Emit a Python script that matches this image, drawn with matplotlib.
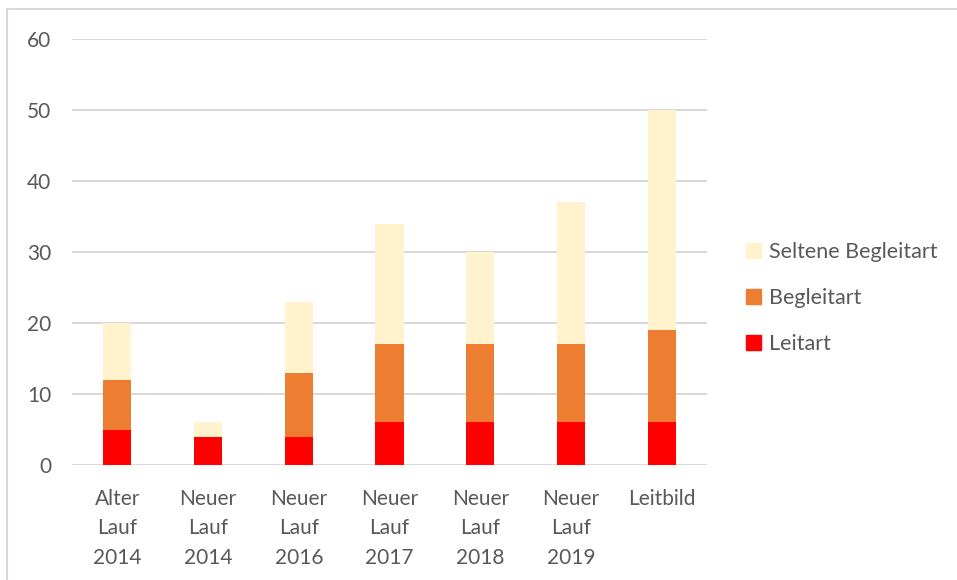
import matplotlib.pyplot as plt
from matplotlib.patches import Rectangle, Patch

categories = ['Alter\nLauf\n2014', 'Neuer\nLauf\n2014', 'Neuer\nLauf\n2016', 'Neuer\nLauf\n2017',
              'Neuer\nLauf\n2018', 'Neuer\nLauf\n2019', 'Leitbild']
leitart = [5, 4, 4, 6, 6, 6, 6]
begleitart = [7, 0, 9, 11, 11, 11, 13]
seltene = [8, 2, 10, 17, 13, 20, 31]

plt.rcParams['font.family'] = ['Lato', 'DejaVu Sans']
txt = '#595959'

fig = plt.figure(figsize=(9.57, 5.8), dpi=100)
fig.patches.append(Rectangle((7 / 957, -0.01), 1.0, 1 - 9 / 580 + 0.01, transform=fig.transFigure,
                             fill=False, edgecolor='#d9d9d9', linewidth=1.5))
ax = fig.add_axes([72 / 957, 115 / 580, 635 / 957, 426 / 580])

x = range(len(categories))
w = 0.31
b2 = [a + b for a, b in zip(leitart, begleitart)]
ax.bar(x, leitart, w, color='#FF0000', label='Leitart', zorder=3)
ax.bar(x, begleitart, w, bottom=leitart, color='#ED7D31', label='Begleitart', zorder=3)
ax.bar(x, seltene, w, bottom=b2, color='#FFF2CC', label='Seltene Begleitart', zorder=3)

ax.set_xlim(-0.5, 6.5)
ax.set_ylim(0, 60)
ax.set_yticks(range(0, 61, 10))
ax.yaxis.grid(True, color='#d9d9d9', linewidth=1.5, zorder=0)
for s in ax.spines.values():
    s.set_visible(False)
ax.tick_params(length=0, colors=txt, labelsize=15)
ax.tick_params(axis='y', pad=15)
ax.tick_params(axis='x', pad=17)
ax.set_xticks(list(x))
ax.set_xticklabels(categories, linespacing=1.6)

handles = [Patch(color='#FFF2CC', label='Seltene Begleitart'),
           Patch(color='#ED7D31', label='Begleitart'),
           Patch(color='#FF0000', label='Leitart')]
fig.legend(handles=handles, loc='center left', bbox_to_anchor=(727 / 957, 1 - 298 / 580),
           frameon=False, fontsize=15.5, labelcolor=txt, handlelength=0.7, handleheight=0.7,
           handletextpad=0.35, labelspacing=1.2)

fig.savefig('out.png', dpi=100)
